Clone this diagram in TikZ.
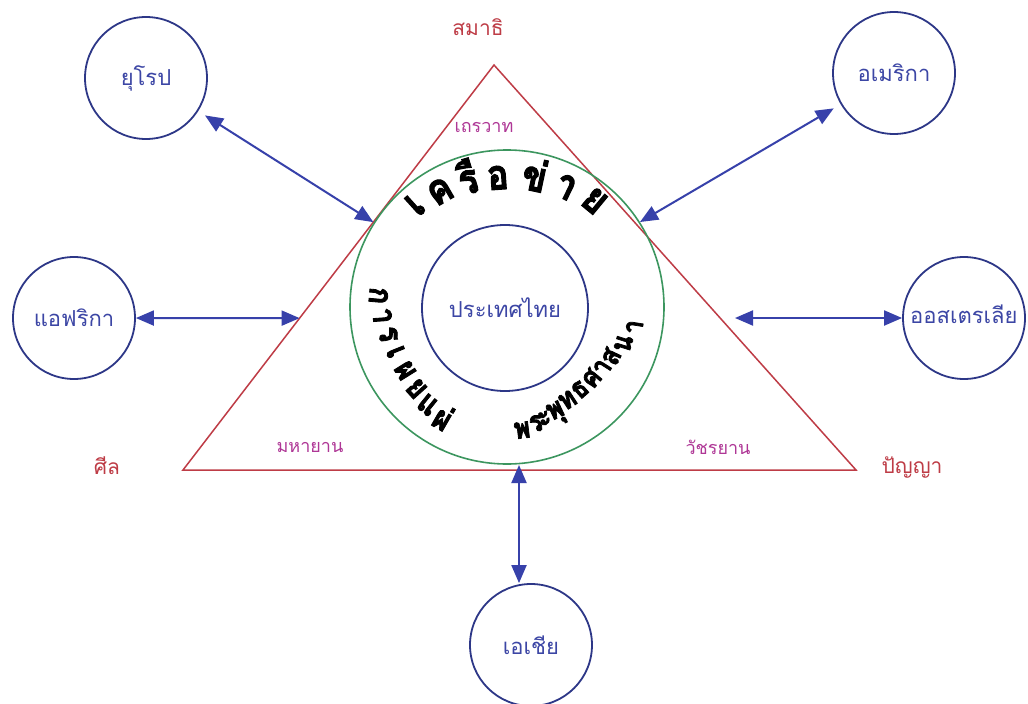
\documentclass[tikz,border=0pt]{standalone}
\usepackage{fontspec}
\newfontfamily\thai[Script=Thai]{Loma}
\newfontfamily\thaiheavy[Script=Thai,UprightFont={* Bold},FakeBold=2.5,FakeStretch=0.85]{Loma}
\usetikzlibrary{arrows.meta,calc}
\definecolor{cnavy}{RGB}{45,55,135}
\definecolor{carrow}{RGB}{55,65,170}
\definecolor{cbtext}{RGB}{60,70,165}
\definecolor{cred}{RGB}{190,60,70}
\definecolor{cmag}{RGB}{175,55,150}
\definecolor{cgreen}{RGB}{60,150,95}
\begin{document}
\begin{tikzpicture}[x=1pt,y=-1pt,
  region/.style={circle,draw=cnavy,line width=1.8pt,minimum size=122pt,inner sep=0pt,
    font=\thai\fontsize{22}{26}\selectfont,text=cbtext},
  lab/.style={inner sep=0pt,font=\thai\fontsize{21}{25}\selectfont},
  sublab/.style={inner sep=0pt,font=\thai\fontsize{18}{22}\selectfont,text=cmag},
  link/.style={draw=carrow,line width=2pt,{Triangle[length=18pt,width=15pt]}-{Triangle[length=18pt,width=15pt]}},
  tri/.style={draw=cred,line width=1.5pt,line join=miter},
  bigtop/.style={inner sep=0pt,anchor=mid,font=\thaiheavy\fontsize{42}{48}\selectfont},
  bigleft/.style={inner sep=0pt,anchor=mid,font=\thaiheavy\fontsize{33}{38}\selectfont},
  bigbot/.style={inner sep=0pt,anchor=mid,font=\thaiheavy\fontsize{29}{34}\selectfont}]
\useasboundingbox (0,0) rectangle (1028,704);
\fill[white] (0,0) rectangle (1028,704);

% triangle
\coordinate (tp) at (494,65);
\coordinate (tl) at (183,470);
\coordinate (tr) at (856,470);
\draw[tri] (tp) -- (tl) -- (tr) -- cycle;

% rings
\node[circle,draw=cgreen,line width=1.6pt,minimum size=314pt,inner sep=0pt] (ring) at (507,307) {};
\node[circle,draw=cnavy,line width=1.8pt,minimum size=166pt,inner sep=0pt,
  font=\thai\fontsize{22}{26}\selectfont,text=cbtext] (thai) at (505,308) {ประเทศไทย};

% curved texts
\foreach \ch/\a/\r [count=\i] in {เ/132/128, ค/120/124, รื/107/121, อ/94/120, ข่/78/121, า/64/124, ย/50.5/128}
  \node[bigtop,rotate=\a-90] (t\i) at ({507+\r*cos(\a)},{307-\r*sin(\a)}) {\ch};
\foreach \ch/\a/\r [count=\i] in {ก/175/136, า/184/132, ร/193/129, เ/202/127, ผ/212/127, ย/222/129, แ/231/133, ผ่/240/138}
  \node[bigleft,rotate=\a+90] (l\i) at ({507+\r*cos(\a)},{307-\r*sin(\a)}) {\ch};
\foreach \ch/\a/\r [count=\i] in {พ/277/130, ร/284/126, ะ/288.5/123, พุ/295/120, ท/303/117, ธ/311.5/116, ศ/320/117, า/327.5/119, ส/334.5/122, น/342.5/128, า/351/135}
  \node[bigbot,rotate=\a+90] (b\i) at ({507+\r*cos(\a)},{307-\r*sin(\a)}) {\ch};

% labels of the triangle
\node[lab,text=cred] (samadhi) at (478,27) {สมาธิ};
\node[lab,text=cred] (sila) at (107,466) {ศีล};
\node[lab,text=cred] (panya) at (912,467) {ปัญญา};
\node[sublab] (thera) at (484,127) {เถรวาท};
\node[sublab] (maha) at (310,447) {มหายาน};
\node[sublab] (vajra) at (718,447) {วัชรยาน};

% regions
\node[region] (eu) at (146,78) {ยุโรป};
\node[region] (am) at (894,73) {อเมริกา};
\node[region] (af) at (74,318) {แอฟริกา};
\node[region] (au) at (964,318) {};
\node[inner sep=0pt,anchor=west,font=\thai\fontsize{22}{26}\selectfont,text=cbtext] (autext) at (910,314) {ออสเตรเลีย};
\node[region] (as) at (531,645) {เอเชีย};

% connector ends
\coordinate (euend) at ($(tp)!0.388!(tl)$);
\coordinate (afend) at ($(tp)!0.625!(tl)$);
\coordinate (amend) at (640,222);
\coordinate (auend) at (735,318);
\coordinate (asend) at (519,465);

% connectors
\draw[link,shorten <=8pt] (eu) -- (euend);
\draw[link,shorten <=8pt] (am) -- (amend);
\draw[link] (af) -- (afend);
\draw[link] (auend) -- (au);
\draw[link] (asend) -- (asend |- as.north);
\end{tikzpicture}
\end{document}
